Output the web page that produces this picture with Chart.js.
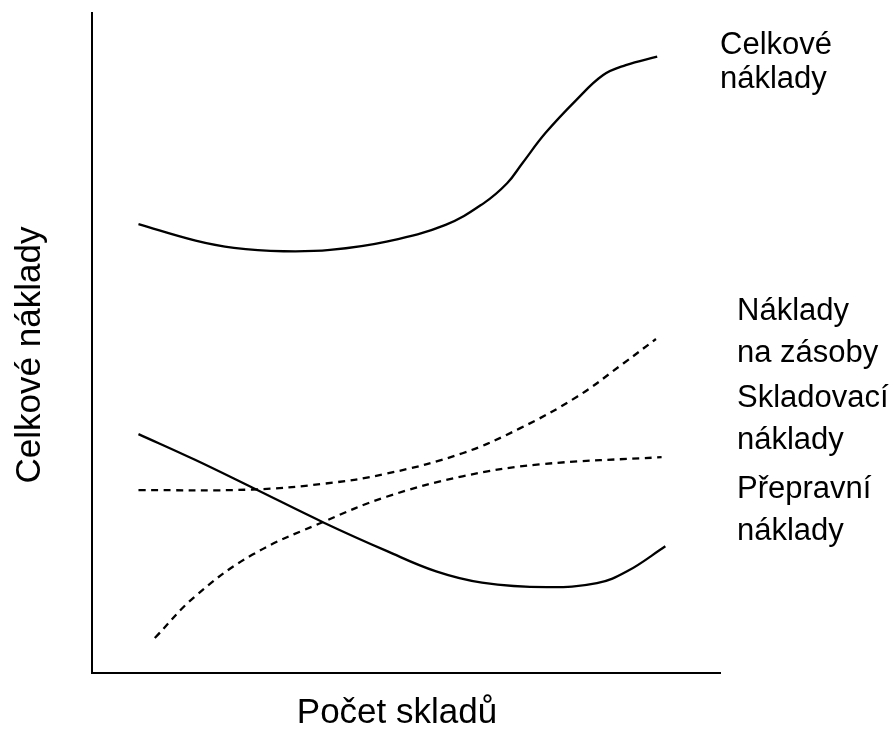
<!DOCTYPE html>
<html>
<head>
<meta charset="utf-8">
<script src="https://cdn.jsdelivr.net/npm/chart.js@4"></script>
<style>
  html, body { margin: 0; padding: 0; background: #fff; }
  #wrap { width: 896px; height: 729px; }
</style>
</head>
<body>
<div id="wrap"><canvas id="myChart"></canvas></div>
<script>
// hodnoty (osa x i y 0–100)
const celkoveX = [7.4, 16.5, 22.6, 30.5, 37.9, 47.1, 56.3, 62.4, 66.1, 68.5, 72.2, 77.1, 81.4, 85.0, 90.0];
const celkoveY = [68.0, 65.5, 64.4, 63.9, 64.1, 65.4, 67.9, 71.2, 74.2, 77.2, 81.8, 86.8, 90.6, 92.1, 93.4];

const zasobyX = [7.4, 25.5, 37.1, 46.9, 59.0, 68.2, 77.3, 84.6, 89.8];
const zasobyY = [27.7, 27.8, 28.7, 30.2, 33.3, 37.1, 41.9, 46.9, 50.6];

const skladX = [10.0, 16.4, 25.5, 37.1, 46.9, 59.0, 71.2, 90.7];
const skladY = [5.3, 11.6, 17.9, 23.0, 26.7, 29.8, 31.6, 32.7];

const prepravaX = [7.4, 16.4, 25.5, 37.1, 46.9, 54.8, 62.1, 72.4, 80.4, 85.2, 91.3];
const prepravaY = [36.2, 32.3, 28.1, 22.7, 18.5, 15.4, 13.7, 13.0, 13.6, 15.4, 19.2];

const popisky = [
  { lines: ['Celkové', 'náklady'], x: 720, y: 45, gap: 34 },
  { lines: ['Náklady', 'na zásoby'], x: 737, y: 311, gap: 42 },
  { lines: ['Skladovací', 'náklady'], x: 737, y: 398, gap: 42 },
  { lines: ['Přepravní', 'náklady'], x: 737, y: 489, gap: 42 }
];

const FONT = '"Liberation Sans", Arial, sans-serif';

function body(xs, ys) {
  return xs.map((x, i) => ({ x: x, y: ys[i] }));
}

function serie(label, xs, ys, dash) {
  return {
    label: label,
    data: body(xs, ys),
    borderColor: '#000',
    borderWidth: 2.3,
    borderDash: dash,
    pointRadius: 0,
    fill: false,
    tension: 0.4
  };
}

// popisky os a křivek
const texty = {
  id: 'texty',
  afterDraw(chart) {
    const c = chart.ctx;
    c.save();
    c.fillStyle = '#000';
    c.font = '31px ' + FONT;
    c.textBaseline = 'middle';
    c.textAlign = 'left';
    popisky.forEach(p => {
      p.lines.forEach((t, i) => c.fillText(t, p.x, p.y + i * p.gap));
    });
    c.font = '35px ' + FONT;
    c.textAlign = 'center';
    c.fillText('Počet skladů', 397, 713);
    c.translate(30, 355);
    c.rotate(-Math.PI / 2);
    c.fillText('Celkové náklady', 0, 0);
    c.restore();
  }
};

const ctx = document.getElementById('myChart');

new Chart(ctx, {
  type: 'line',
  data: {
    datasets: [
      serie('Celkové náklady', celkoveX, celkoveY, []),
      serie('Náklady na zásoby', zasobyX, zasobyY, [7, 5.5]),
      serie('Skladovací náklady', skladX, skladY, [7, 5.5]),
      serie('Přepravní náklady', prepravaX, prepravaY, [])
    ]
  },
  options: {
    responsive: true,
    maintainAspectRatio: false,
    animation: false,
    layout: {
      padding: { left: 92, top: 13, right: 176, bottom: 56 }
    },
    plugins: {
      legend: { display: false },
      tooltip: { enabled: false }
    },
    scales: {
      x: {
        type: 'linear',
        min: 0,
        max: 100,
        ticks: { display: false },
        grid: { display: false, drawTicks: false },
        border: { display: true, color: '#000', width: 2 }
      },
      y: {
        min: 0,
        max: 100,
        ticks: { display: false },
        grid: { display: false, drawTicks: false },
        border: { display: true, color: '#000', width: 2 }
      }
    }
  },
  plugins: [texty]
});
</script>
</body>
</html>
